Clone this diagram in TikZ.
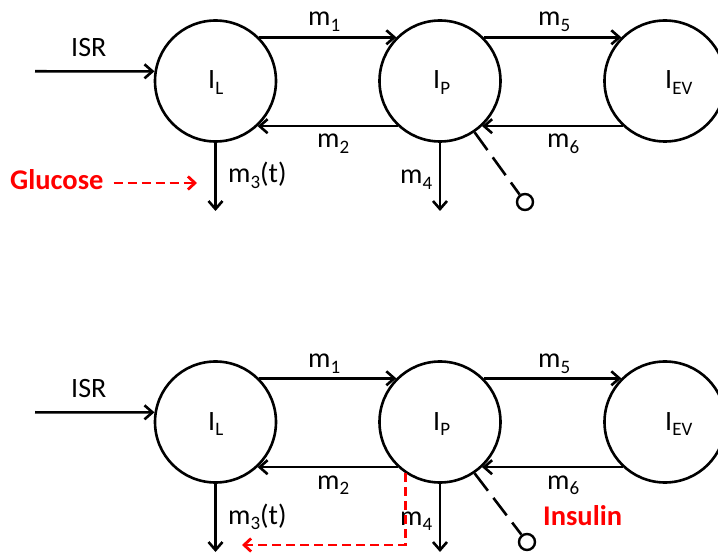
\documentclass[tikz,border=0pt]{standalone}
\usepackage{fontspec}
\setmainfont{Carlito}
\usetikzlibrary{arrows.meta}
\definecolor{pptred}{RGB}{255,0,0}
\newcommand\subs[1]{\raisebox{-0.2em}{\fontsize{19}{19}\selectfont #1}}
\tikzset{
  comp/.style={circle,draw,line width=2.6pt,minimum size=121pt,inner sep=0pt},
  sink/.style={circle,draw,line width=2.4pt,minimum size=16pt,inner sep=0pt},
  lbl/.style={anchor=base west,inner sep=0pt,font=\fontsize{28}{32}\selectfont},
  redlbl/.style={anchor=base west,inner sep=0pt,text=pptred,font=\fontsize{28.5}{32}\selectfont\bfseries},
  flow/.style={line width=2.6pt,-{Straight Barb[length=8pt,width=14pt]}},
  ctrl/.style={line width=2.6pt,dash pattern=on 22pt off 9pt},
  reddash/.style={line width=2.8pt,draw=pptred,dash pattern=on 9pt off 5pt,-{Straight Barb[length=7pt,width=13pt]}}
}
\begin{document}
\begin{tikzpicture}[x=1pt,y=-1pt]
\useasboundingbox (0,0) rectangle (718,553);
% ---------- top panel ----------
\node[comp] (IL1) at (215.5,81) {};
\node[comp] (IP1) at (440,81) {};
\node[comp] (IEV1) at (665,81) {};
\node[lbl] (tIL1) at (208,89) {I\subs{L}};
\node[lbl] (tIP1) at (433,89) {I\subs{P}};
\node[lbl] (tIEV1) at (665,89) {I\subs{EV}};
\node[sink] (sc1) at (525,202) {};
\coordinate (isr1) at (35,71.3);
\coordinate (m3e1) at (215.5,211);
\coordinate (m4e1) at (440,211);
\draw[flow] (isr1) -- (IL1.171);
\draw[flow] (IL1.45) -- (IP1.135);
\draw[flow] (IP1.227) -- (IL1.-47);
\draw[flow] (IP1.45) -- (IEV1.135);
\draw[flow] (IEV1.227) -- (IP1.-47);
\draw[flow] (IL1.south) -- (m3e1);
\draw[flow] (IP1.south) -- (m4e1);
\draw[ctrl] (IP1.-56) -- (sc1);
\node[lbl] (isrt1) at (71,57) {ISR};
\node[lbl] (m11) at (308,26) {m\subs{1}};
\node[lbl] (m21) at (317,148) {m\subs{2}};
\node[lbl] (m31) at (228,183) {m\subs{3}(t)};
\node[lbl] (m41) at (400,184) {m\subs{4}};
\node[lbl] (m51) at (538,26) {m\subs{5}};
\node[lbl] (m61) at (547,148) {m\subs{6}};
\node[redlbl] (glu) at (10,190) {Glucose};
\coordinate (gluE) at (197,183);
\draw[reddash] ([xshift=10pt]glu.east |- gluE) -- (gluE);
% ---------- bottom panel ----------
\node[comp] (IL2) at (215.5,422) {};
\node[comp] (IP2) at (440,422) {};
\node[comp] (IEV2) at (665,422) {};
\node[lbl] (tIL2) at (208,430) {I\subs{L}};
\node[lbl] (tIP2) at (433,430) {I\subs{P}};
\node[lbl] (tIEV2) at (665,430) {I\subs{EV}};
\node[sink] (sc2) at (527,542) {};
\coordinate (isr2) at (35,412.3);
\coordinate (m3e2) at (215.5,552);
\coordinate (m4e2) at (440,552);
\draw[flow] (isr2) -- (IL2.171);
\draw[flow] (IL2.45) -- (IP2.135);
\draw[flow] (IP2.227) -- (IL2.-47);
\draw[flow] (IP2.45) -- (IEV2.135);
\draw[flow] (IEV2.227) -- (IP2.-47);
\draw[flow] (IL2.south) -- (m3e2);
\draw[flow] (IP2.south) -- (m4e2);
\draw[ctrl] (IP2.-56) -- (sc2);
\node[lbl] (isrt2) at (71,398) {ISR};
\node[lbl] (m12) at (308,368) {m\subs{1}};
\node[lbl] (m22) at (317,489) {m\subs{2}};
\node[lbl] (m32) at (228,524) {m\subs{3}(t)};
\node[lbl] (m42) at (400,525) {m\subs{4}};
\node[lbl] (m52) at (538,368) {m\subs{5}};
\node[lbl] (m62) at (547,489) {m\subs{6}};
\node[redlbl] (ins) at (543,525) {Insulin};
\coordinate (insE) at (242,545);
\draw[reddash] (IP2.236) |- (insE);
\end{tikzpicture}
\end{document}
